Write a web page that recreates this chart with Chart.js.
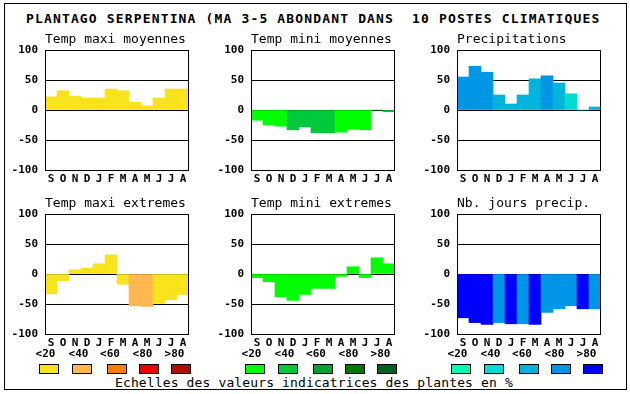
<!DOCTYPE html>
<html>
<head>
<meta charset="utf-8">
<script src="https://cdn.jsdelivr.net/npm/chart.js@4/dist/chart.umd.min.js"></script>
<style>
  html, body { margin:0; padding:0; background:#fff; }
  body { width:630px; height:394px; position:relative; overflow:hidden; font-family:"DejaVu Sans Mono", monospace; color:#000; }
  #frame { position:absolute; left:4px; top:3px; width:621px; height:385px; border:1px solid #000; }
  .txt { position:absolute; white-space:pre; line-height:13px; font-size:13px; }
  #title { left:26px; top:12px; font-weight:bold; letter-spacing:1.15px; }
  .cls { position:absolute; font-size:11px; font-weight:bold; line-height:11px; white-space:pre; transform:translateX(-50%); }
  .sw { position:absolute; width:18px; height:8px; border:1px solid #000; }
  canvas { position:absolute; }
</style>
</head>
<body>
<div id="frame"></div>
<div id="title" class="txt"></div>
<div id="footer" class="txt" style="left:115px; top:376px; letter-spacing:0.13px;"></div>
<script>
// ---- DATA ----
const months = ['S','O','N','D','J','F','M','A','M','J','J','A'];
const yTicks = [-100, -50, 0, 50, 100];
const classLabels = ['<20','<40','<60','<80','>80'];
const titleText = 'PLANTAGO SERPENTINA (MA 3-5 ABONDANT DANS  10 POSTES CLIMATIQUES';
const footerText = 'Echelles des valeurs indicatrices des plantes en %';

const panelTitles = ['Temp maxi moyennes','Temp mini moyennes','Precipitations',
                     'Temp maxi extremes','Temp mini extremes','Nb. jours precip.'];

// values (indicator %)
const tmaxMoy   = [22, 32, 23, 20, 20, 35, 32, 13, 7, 20, 35, 35];
const tminMoy   = [-17, -25, -27, -33, -28, -38, -38, -37, -32, -33, 0, -3];
const precip    = [55, 73, 63, 25, 10, 25, 52, 57, 45, 27, 0, 5];
const tmaxExt   = [-33, -11, 7, 10, 17, 32, -17, -53, -54, -49, -43, -34];
const tminExt   = [-6, -13, -38, -44, -34, -24, -24, -4, 12, -6, 27, 17];
const joursPrec = [-73, -81, -84, -81, -83, -83, -84, -64, -58, -53, -58, -58];

// indicator class of each bar (0:<20, 1:<40, 2:<60, 3:<80, 4:>80)
const tmaxMoyCls   = [0,0,0,0,0,0,0,0,0,0,0,0];
const tminMoyCls   = [0,0,0,1,1,1,1,0,0,0,0,1];
const precipCls    = [3,3,3,2,2,2,2,3,2,1,2,2];
const tmaxExtCls   = [0,0,0,0,0,0,0,1,1,0,0,0];
const tminExtCls   = [0,0,0,0,0,0,0,0,0,0,0,0];
const joursPrecCls = [4,4,4,3,4,3,4,3,3,3,4,3];

// ---- STYLE ----
const paletteTemp  = ['#f8e31c','#ffb84d','#ff7f00','#e60000','#aa1000'];
const paletteFroid = ['#00ff00','#00c83c','#00a032','#007800','#006020'];
const paletteEau   = ['#00ffb4','#00dcd2','#00b4dc','#0096e6','#0000ff'];

const panels = [
  {data:tmaxMoy,   cls:tmaxMoyCls,   pal:paletteTemp,  left:45,  top:50},
  {data:tminMoy,   cls:tminMoyCls,   pal:paletteFroid, left:251, top:50},
  {data:precip,    cls:precipCls,    pal:paletteEau,   left:457, top:50},
  {data:tmaxExt,   cls:tmaxExtCls,   pal:paletteTemp,  left:45,  top:214},
  {data:tminExt,   cls:tminExtCls,   pal:paletteFroid, left:251, top:214},
  {data:joursPrec, cls:joursPrecCls, pal:paletteEau,   left:457, top:214}
];

document.getElementById('title').textContent = titleText;
document.getElementById('footer').textContent = footerText;

const tickFont = {family:'DejaVu Sans Mono', size:11, weight:'bold'};
const YW = 45, PT = 8, PR = 6, XH = 16, PW = 144, PH = 120;

const framePlugin = {
  id:'plotFrame',
  afterDraw(chart){
    const a = chart.chartArea, c = chart.ctx;
    c.save();
    c.strokeStyle = '#000'; c.lineWidth = 1;
    c.strokeRect(Math.round(a.left)+0.5, Math.round(a.top)+0.5,
                 Math.round(a.right-a.left)-1, Math.round(a.bottom-a.top));
    c.restore();
  }
};

panels.forEach((p, i) => {
  const cv = document.createElement('canvas');
  const W = YW + PW + PR, H = PT + PH + XH;
  cv.width = W; cv.height = H;
  cv.style.width = W + 'px'; cv.style.height = H + 'px';
  cv.style.left = (p.left - YW) + 'px';
  cv.style.top = (p.top - PT) + 'px';
  document.body.appendChild(cv);

  const st = document.createElement('div');
  st.className = 'txt';
  st.textContent = panelTitles[i];
  st.style.left = p.left + 'px';
  st.style.top = (p.top - 18) + 'px';
  document.body.appendChild(st);

  new Chart(cv, {
    type:'bar',
    data:{
      labels: months,
      datasets:[{
        data: p.data,
        backgroundColor: p.cls.map(c => p.pal[c]),
        borderWidth: 0,
        barPercentage: 1,
        categoryPercentage: 1
      }]
    },
    options:{
      responsive:false, maintainAspectRatio:false, animation:false,
      layout:{autoPadding:false, padding:{top:PT, right:PR, left:0, bottom:0}},
      plugins:{legend:{display:false}, tooltip:{enabled:false}, title:{display:false}},
      scales:{
        x:{
          grid:{display:false, drawTicks:false},
          border:{display:false},
          ticks:{font:tickFont, color:'#000', padding:3, maxRotation:0, autoSkip:false},
          afterFit(s){ s.height = XH; s.paddingLeft = 0; s.paddingRight = 0; }
        },
        y:{
          min:-100, max:100,
          afterBuildTicks(s){ s.ticks = yTicks.map(v => ({value:v})); },
          ticks:{font:tickFont, color:'#000', padding:7},
          grid:{color:'#000', lineWidth:1, drawTicks:false},
          border:{display:false},
          z:1,
          afterFit(s){ s.width = YW; s.paddingTop = 0; s.paddingBottom = 0; }
        }
      }
    },
    plugins:[framePlugin]
  });

  // class legend under the bottom row
  if (i >= 3) {
    const lblOff = [0.5, 33.5, 65, 97.5, 129.5];
    const swOff  = [-6, 27, 62, 94, 126];
    classLabels.forEach((lab, k) => {
      const d = document.createElement('div');
      d.className = 'cls';
      d.textContent = lab;
      d.style.left = (p.left + lblOff[k]) + 'px';
      d.style.top = '348px';
      document.body.appendChild(d);
      const s = document.createElement('div');
      s.className = 'sw';
      s.style.left = (p.left + swOff[k]) + 'px';
      s.style.top = '364px';
      s.style.background = p.pal[k];
      document.body.appendChild(s);
    });
  }
});
</script>
</body>
</html>
